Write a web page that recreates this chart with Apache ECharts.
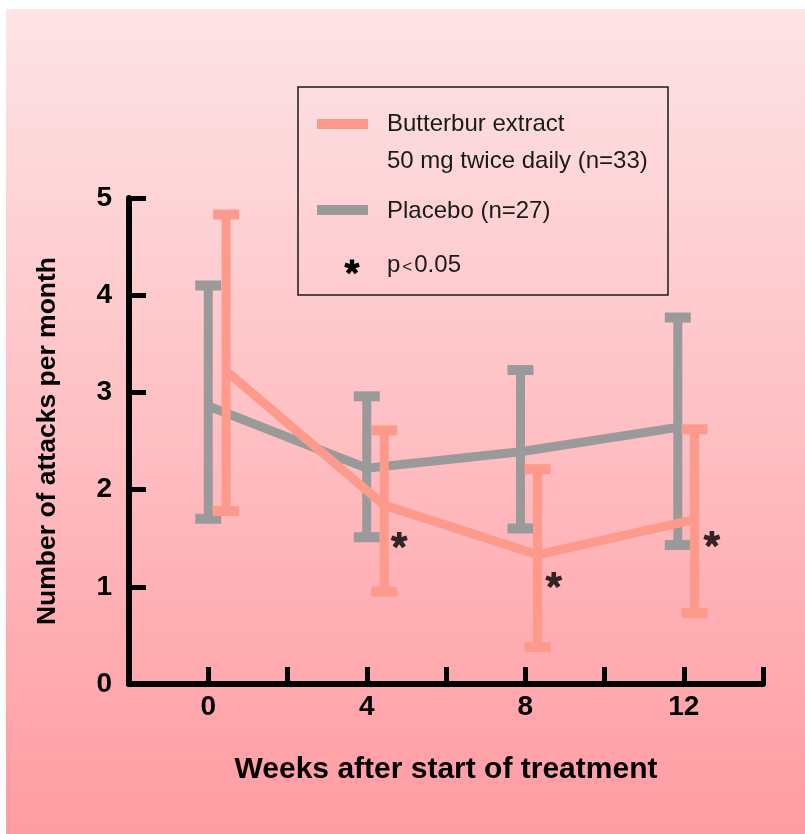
<!DOCTYPE html>
<html>
<head>
<meta charset="utf-8">
<script src="https://cdn.jsdelivr.net/npm/echarts@6/dist/echarts.min.js"></script>
<style>
html,body{margin:0;padding:0;background:#ffffff;}
#chart{position:absolute;left:6px;top:9px;width:799px;height:825px;}
</style>
</head>
<body>
<div id="chart"></div>
<script>
// ---- data ----
const weekTickLabels = [0, 4, 8, 12];
const placeboWeeks = [0, 4, 7.88, 11.85];
const placeboMean = [2.86, 2.22, 2.39, 2.64];
const placeboLow = [1.70, 1.51, 1.60, 1.43];
const placeboHigh = [4.10, 2.96, 3.23, 3.77];
const butterburWeeks = [0.45, 4.44, 8.31, 12.27];
const butterburMean = [3.22, 1.84, 1.33, 1.69];
const butterburLow = [1.78, 0.95, 0.38, 0.73];
const butterburHigh = [4.83, 2.61, 2.21, 2.62];
const starWeeks = [4.82, 8.72, 12.71];
const starValues = [1.48, 1.07, 1.49];
const legendButterbur = ['Butterbur extract', '50 mg twice daily (n=33)'];
const legendPlacebo = 'Placebo (n=27)';
const legendStar = ['p', '<', '0.05'];
const xAxisTitle = 'Weeks after start of treatment';
const yAxisTitle = 'Number of attacks per month';

// ---- styles ----
const SALMON = '#fe9a8b';
const GRAY = '#9a9a9a';
const FONT = "'Liberation Sans', Arial, Helvetica, sans-serif";

// asterisk outline (5 arms) as a single polygon, centred at (cx, cy)
function asteriskPoints(cx, cy, R, h) {
  const pts = [];
  const rin = h / Math.sin(36 * Math.PI / 180);
  for (let i = 0; i < 5; i++) {
    const a = (-90 + i * 72) * Math.PI / 180;
    const dx = Math.cos(a), dy = Math.sin(a), px = -dy, py = dx;
    pts.push([cx + dx * R - px * h, cy + dy * R - py * h]);
    pts.push([cx + dx * R + px * h, cy + dy * R + py * h]);
    const b = a + 36 * Math.PI / 180;
    pts.push([cx + Math.cos(b) * rin, cy + Math.sin(b) * rin]);
  }
  return pts;
}
const STAR_PATH = 'path://' + asteriskPoints(50, 50, 50, 14)
  .map((p, i) => (i ? 'L' : 'M') + p[0].toFixed(2) + ' ' + p[1].toFixed(2)).join(' ') + ' Z';

function zip2(a, b) { return a.map((v, i) => [v, b[i]]); }
function zip3(a, b, c) { return a.map((v, i) => [v, b[i], c[i]]); }

function errorBars(color) {
  return function (params, api) {
    const x = api.value(0), lo = api.value(1), hi = api.value(2);
    const pLo = api.coord([x, lo]);
    const pHi = api.coord([x, hi]);
    const bw = 9, cw = 26, ch = 10;
    return {
      type: 'group',
      children: [
        { type: 'rect', shape: { x: pHi[0] - bw / 2, y: pHi[1], width: bw, height: pLo[1] - pHi[1] }, style: { fill: color } },
        { type: 'rect', shape: { x: pHi[0] - cw / 2, y: pHi[1] - ch / 2, width: cw, height: ch }, style: { fill: color } },
        { type: 'rect', shape: { x: pLo[0] - cw / 2, y: pLo[1] - ch / 2, width: cw, height: ch }, style: { fill: color } }
      ]
    };
  };
}

const chart = echarts.init(document.getElementById('chart'), null, { renderer: 'canvas' });

// legend box geometry (chart coords)
const LX = 292, LY = 78;

const option = {
  animation: false,
  backgroundColor: {
    type: 'linear', x: 0, y: 0, x2: 0, y2: 1,
    colorStops: [{ offset: 0, color: '#fde4e6' }, { offset: 1, color: '#ff9ca2' }]
  },
  grid: { left: 123, right: 42, top: 189, bottom: 150, containLabel: false },
  xAxis: {
    type: 'value', min: -2, max: 14, interval: 2,
    name: xAxisTitle, nameLocation: 'middle', nameGap: 71,
    nameTextStyle: { fontFamily: FONT, fontWeight: 'bold', fontSize: 30, color: '#000' },
    axisLine: { onZero: false, lineStyle: { color: '#000', width: 6 } },
    axisTick: { inside: true, length: 17, lineStyle: { color: '#000', width: 5 } },
    axisLabel: {
      margin: 9, fontFamily: FONT, fontWeight: 'bold', fontSize: 28, color: '#000',
      formatter: v => weekTickLabels.indexOf(v) >= 0 ? String(v) : ''
    },
    splitLine: { show: false }
  },
  yAxis: {
    type: 'value', min: 0, max: 5, interval: 1,
    name: yAxisTitle, nameLocation: 'middle', nameGap: 68,
    nameTextStyle: { fontFamily: FONT, fontWeight: 'bold', fontSize: 26.5, color: '#000' },
    axisLine: { onZero: false, lineStyle: { color: '#000', width: 6 } },
    axisTick: { inside: true, length: 17, lineStyle: { color: '#000', width: 5 } },
    axisLabel: { margin: 17, fontFamily: FONT, fontWeight: 'bold', fontSize: 28, color: '#000' },
    splitLine: { show: false }
  },
  series: [
    {
      name: 'Placebo', type: 'line', z: 2, data: zip2(placeboWeeks, placeboMean),
      symbol: 'none', lineStyle: { color: GRAY, width: 9, cap: 'butt', join: 'miter' }
    },
    {
      name: 'Placebo SD', type: 'custom', z: 3, data: zip3(placeboWeeks, placeboLow, placeboHigh),
      renderItem: errorBars(GRAY), encode: { x: 0, y: [1, 2] }
    },
    {
      name: 'Butterbur', type: 'line', z: 4, data: zip2(butterburWeeks, butterburMean),
      symbol: 'none', lineStyle: { color: SALMON, width: 9, cap: 'butt', join: 'miter' }
    },
    {
      name: 'Butterbur SD', type: 'custom', z: 5, data: zip3(butterburWeeks, butterburLow, butterburHigh),
      renderItem: errorBars(SALMON), encode: { x: 0, y: [1, 2] }
    },
    {
      name: 'p<0.05', type: 'scatter', z: 6, data: zip2(starWeeks, starValues),
      symbol: STAR_PATH, symbolSize: 17, symbolKeepAspect: true,
      itemStyle: { color: '#000' }
    }
  ],
  graphic: [
    { type: 'rect', z: 10, shape: { x: LX, y: LY, width: 370, height: 208 },
      style: { fill: 'none', stroke: '#1a1a1a', lineWidth: 1.5 } },
    { type: 'rect', z: 10, shape: { x: LX + 19, y: LY + 32, width: 51, height: 10 }, style: { fill: SALMON } },
    { type: 'text', z: 10, x: LX + 89, y: LY + 37,
      style: { text: legendButterbur[0], font: '24px ' + FONT, fill: '#1a1a1a', verticalAlign: 'middle' } },
    { type: 'text', z: 10, x: LX + 89, y: LY + 74,
      style: { text: legendButterbur[1], font: '24px ' + FONT, fill: '#1a1a1a', verticalAlign: 'middle' } },
    { type: 'rect', z: 10, shape: { x: LX + 19, y: LY + 118, width: 51, height: 10 }, style: { fill: GRAY } },
    { type: 'text', z: 10, x: LX + 89, y: LY + 124,
      style: { text: legendPlacebo, font: '24px ' + FONT, fill: '#1a1a1a', verticalAlign: 'middle' } },
    { type: 'polygon', z: 10, shape: { points: asteriskPoints(LX + 54, LY + 180, 7.5, 2.2) },
      style: { fill: '#000' } },
    { type: 'text', z: 10, x: LX + 89, y: LY + 178,
      style: {
        text: '{a|' + legendStar[0] + '}{b|' + legendStar[1] + '}{a|' + legendStar[2] + '}',
        verticalAlign: 'middle',
        rich: {
          a: { fontFamily: FONT, fontSize: 24, fill: '#1a1a1a' },
          b: { fontFamily: FONT, fontSize: 17, fill: '#1a1a1a', padding: [4, 2, 0, 2] }
        }
      } }
  ]
};
chart.setOption(option);
</script>
</body>
</html>
